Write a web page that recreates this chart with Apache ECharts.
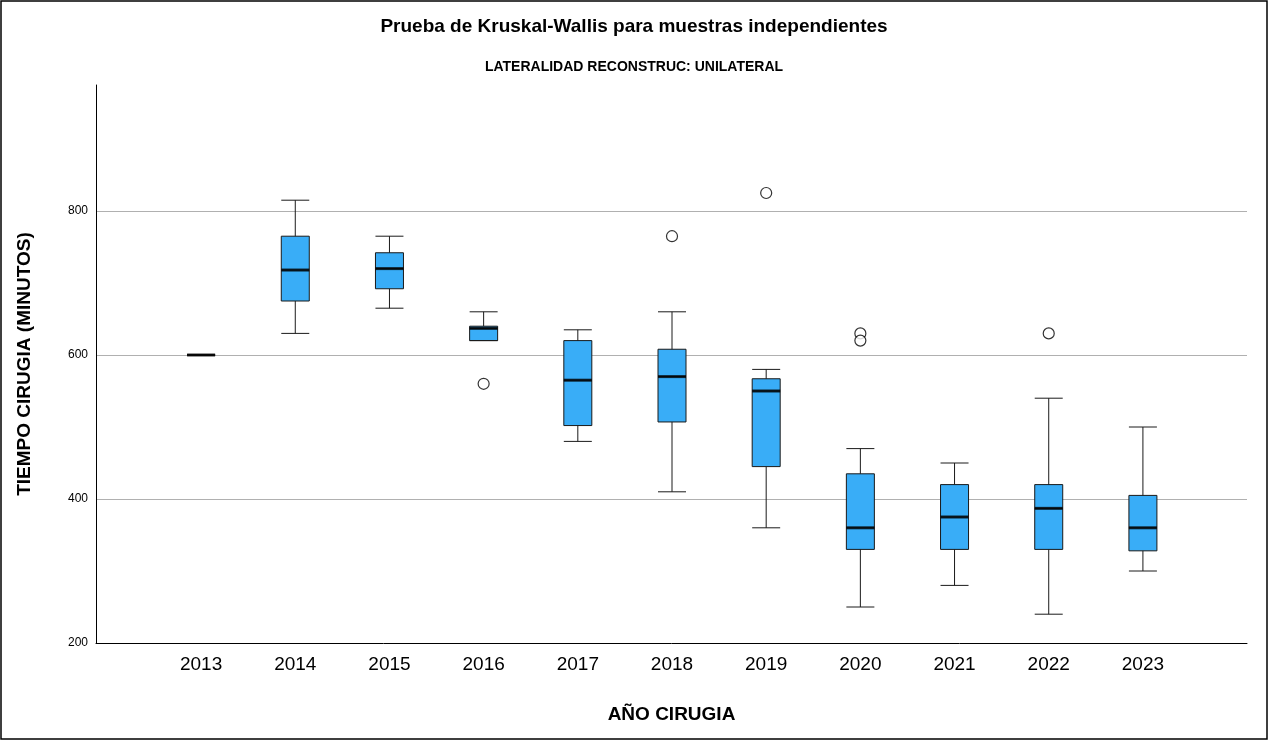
<!DOCTYPE html>
<html><head><meta charset="utf-8">
<script src="https://cdn.jsdelivr.net/npm/echarts@6/dist/echarts.min.js"></script>
<style>html,body{margin:0;padding:0;background:#fff}#c{width:1268px;height:740px}</style>
</head><body><div id="c"></div>
<script>
const years = ['2013','2014','2015','2016','2017','2018','2019','2020','2021','2022','2023'];
// [min, Q1, median, Q3, max]
const boxes = [
 [600,600,600,600,600],
 [630,675,718,765,815],
 [665,692,720,742,765],
 [620,620,637,640,660],
 [480,502,565,620,635],
 [410,507,570,608,660],
 [360,445,550,567,580],
 [250,330,360,435,470],
 [280,330,375,420,450],
 [240,330,387,420,540],
 [300,328,360,405,500]
];
const outliers = [['2016',560],['2018',765],['2019',825],['2020',630],['2020',620],['2022',630]];
const yTicks = [200,400,600,800];

const F = 'Liberation Sans, Arial, sans-serif';
const chart = echarts.init(document.getElementById('c'));
chart.setOption({
  animation:false,
  textStyle:{fontFamily:F},
  title:[
    {text:'Prueba de Kruskal-Wallis para muestras independientes',left:'center',top:12,textStyle:{fontSize:19,fontWeight:'bold',color:'#000',fontFamily:F}},
    {text:'LATERALIDAD RECONSTRUC: UNILATERAL',left:'center',top:55,textStyle:{fontSize:14,fontWeight:'bold',color:'#000',fontFamily:F}}
  ],
  graphic:[{type:'rect',shape:{x:1,y:1,width:1266,height:738},style:{fill:null,stroke:'#000',lineWidth:1.5},silent:true}],
  grid:[
    {left:96,right:21,top:85,bottom:97},
    {left:154,right:78,top:85,bottom:97}
  ],
  xAxis:[
    {gridIndex:0,type:'value',min:0,max:1,axisLine:{show:true,onZero:false,lineStyle:{color:'#000'}},axisTick:{show:false},axisLabel:{show:false},splitLine:{show:false},
     name:'AÑO CIRUGIA',nameLocation:'middle',nameGap:62,nameTextStyle:{fontSize:19,fontWeight:'bold',color:'#000',fontFamily:F}},
    {gridIndex:1,type:'category',data:years,boundaryGap:true,axisLine:{show:false},axisTick:{show:false},
     axisLabel:{fontSize:19,color:'#000',margin:12,fontFamily:F}}
  ],
  yAxis:[
    {gridIndex:0,type:'value',min:200,max:975,interval:200,axisLine:{show:true,lineStyle:{color:'#000'}},axisTick:{show:false},
     axisLabel:{fontSize:12,color:'#000',showMaxLabel:false,formatter:v=>yTicks.includes(v)?v:''},
     splitLine:{show:true,showMinLine:false,showMaxLine:false,lineStyle:{color:'#b0b0b0',width:1.2}},
     name:'TIEMPO CIRUGIA (MINUTOS)',nameLocation:'middle',nameGap:62,nameTextStyle:{fontSize:19,fontWeight:'bold',color:'#000',fontFamily:F}},
    {gridIndex:1,type:'value',min:200,max:975,show:false}
  ],
  series:[
    {type:'boxplot',xAxisIndex:1,yAxisIndex:1,data:boxes,boxWidth:[28,28],
     itemStyle:{color:'#39adf7',borderColor:'#1a1a1a',borderWidth:1}},
    {type:'scatter',xAxisIndex:1,yAxisIndex:1,symbol:'rect',symbolSize:[28,3],
     data:boxes.map((b,i)=>[years[i],b[2]]),itemStyle:{color:'#000'},z:5},
    {type:'scatter',xAxisIndex:1,yAxisIndex:1,symbol:'circle',symbolSize:11,
     data:outliers,itemStyle:{color:'#fff',borderColor:'#000',borderWidth:1.2},z:5}
  ]
});
</script></body></html>
